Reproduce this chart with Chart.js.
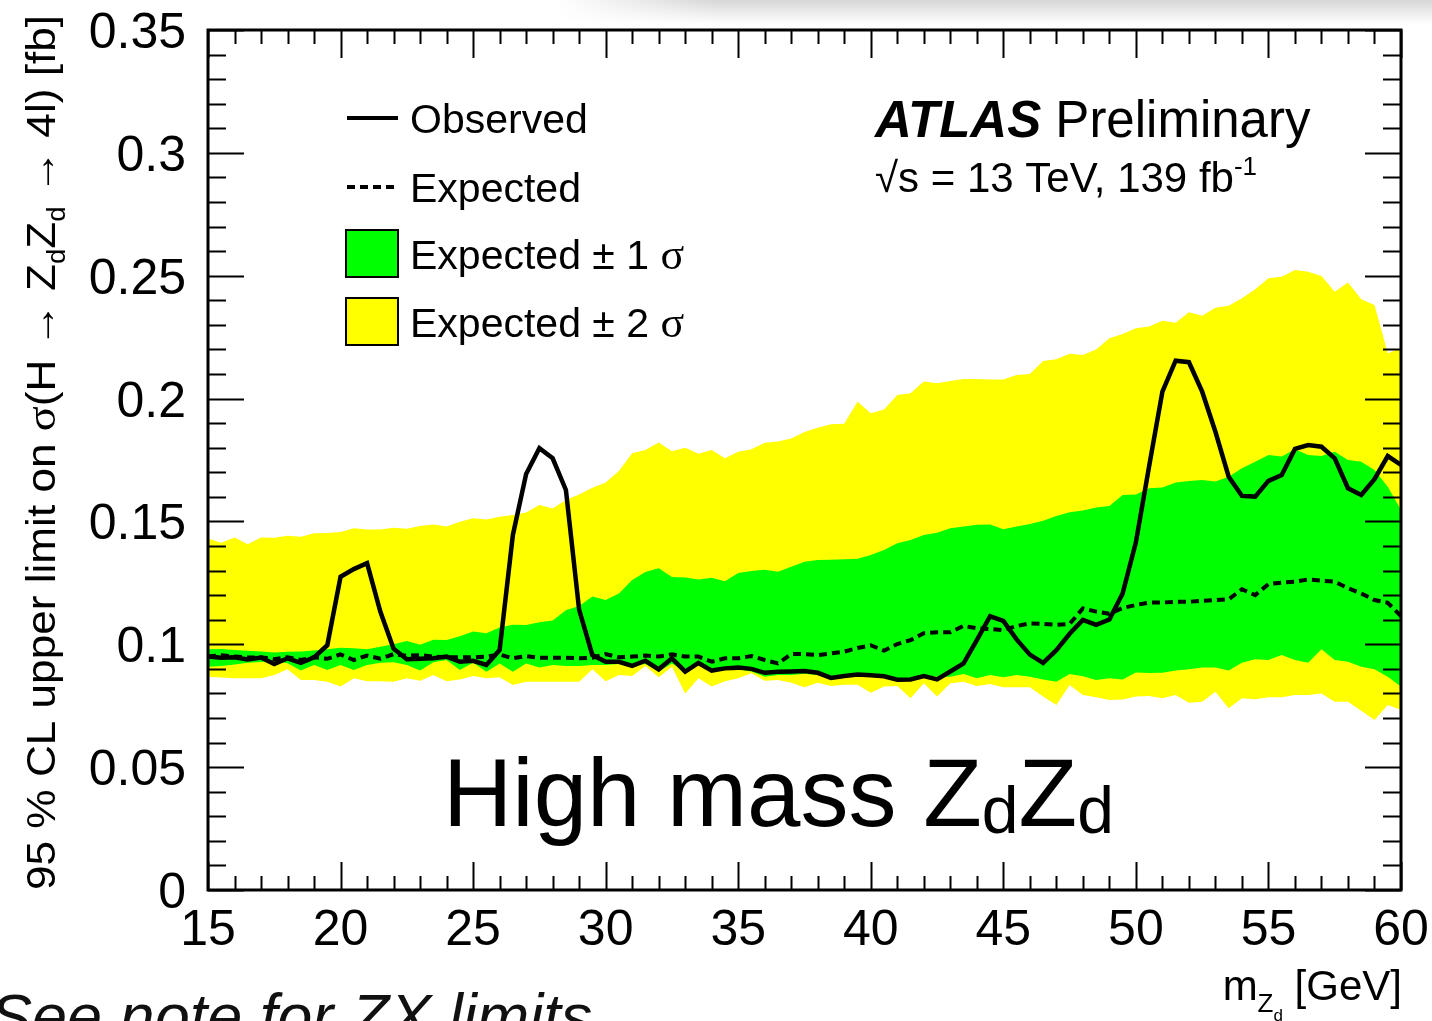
<!DOCTYPE html>
<html>
<head>
<meta charset="utf-8">
<script src="https://cdn.jsdelivr.net/npm/chart.js@4.4.0/dist/chart.umd.min.js"></script>
<style>
  html, body { margin: 0; padding: 0; background: #fff; }
  canvas { display: block; }
</style>
</head>
<body>
<canvas id="limit-chart" width="1432" height="1021"></canvas>
<script>
// m(Zd) scan points [GeV]
var masses = [
  15, 15.5, 16, 16.5, 17, 17.5, 18, 18.5, 19, 19.5,
  20, 20.5, 21, 21.5, 22, 22.5, 23, 23.5, 24, 24.5,
  25, 25.5, 26, 26.5, 27, 27.5, 28, 28.5, 29, 29.5,
  30, 30.5, 31, 31.5, 32, 32.5, 33, 33.5, 34, 34.5,
  35, 35.5, 36, 36.5, 37, 37.5, 38, 38.5, 39, 39.5,
  40, 40.5, 41, 41.5, 42, 42.5, 43, 43.5, 44, 44.5,
  45, 45.5, 46, 46.5, 47, 47.5, 48, 48.5, 49, 49.5,
  50, 50.5, 51, 51.5, 52, 52.5, 53, 53.5, 54, 54.5,
  55, 55.5, 56, 56.5, 57, 57.5, 58, 58.5, 59, 59.5,
  60
];

// 95% CL limits [fb]
var observed = [
  0.0950, 0.0945, 0.0947, 0.0938, 0.0946, 0.0920, 0.0943, 0.0924, 0.0947, 0.0996,
  0.1275, 0.1306, 0.1330, 0.1133, 0.0982, 0.0939, 0.0941, 0.0943, 0.0950, 0.0929,
  0.0933, 0.0916, 0.0977, 0.1445, 0.1693, 0.1798, 0.1757, 0.1628, 0.1140, 0.0956,
  0.0929, 0.0929, 0.0912, 0.0933, 0.0898, 0.0943, 0.0889, 0.0924, 0.0893, 0.0902,
  0.0905, 0.0900, 0.0884, 0.0888, 0.0889, 0.0891, 0.0884, 0.0863, 0.0871, 0.0877,
  0.0874, 0.0870, 0.0856, 0.0857, 0.0871, 0.0857, 0.0889, 0.0922, 0.1017, 0.1114,
  0.1095, 0.1020, 0.0958, 0.0924, 0.0976, 0.1043, 0.1099, 0.1079, 0.1101, 0.1207,
  0.1415, 0.1725, 0.2028, 0.2154, 0.2148, 0.2028, 0.1865, 0.1682, 0.1604, 0.1601,
  0.1665, 0.1689, 0.1795, 0.1811, 0.1804, 0.1757, 0.1635, 0.1608, 0.1672, 0.1766,
  0.1730
];
var expected = [
  0.0950, 0.0955, 0.0950, 0.0946, 0.0947, 0.0939, 0.0947, 0.0936, 0.0947, 0.0941,
  0.0959, 0.0936, 0.0954, 0.0941, 0.0960, 0.0953, 0.0956, 0.0950, 0.0947, 0.0947,
  0.0947, 0.0950, 0.0958, 0.0943, 0.0952, 0.0945, 0.0945, 0.0945, 0.0943, 0.0945,
  0.0960, 0.0947, 0.0950, 0.0954, 0.0950, 0.0959, 0.0950, 0.0950, 0.0929, 0.0943,
  0.0943, 0.0952, 0.0936, 0.0922, 0.0960, 0.0960, 0.0956, 0.0963, 0.0970, 0.0985,
  0.0996, 0.0974, 0.1001, 0.1017, 0.1045, 0.1049, 0.1049, 0.1075, 0.1065, 0.1062,
  0.1058, 0.1074, 0.1085, 0.1083, 0.1079, 0.1083, 0.1146, 0.1133, 0.1124, 0.1148,
  0.1160, 0.1170, 0.1170, 0.1173, 0.1173, 0.1177, 0.1180, 0.1183, 0.1224, 0.1200,
  0.1245, 0.1251, 0.1255, 0.1264, 0.1259, 0.1255, 0.1228, 0.1207, 0.1180, 0.1169,
  0.1115
];
var plus1 = [
  0.0980, 0.0981, 0.0977, 0.0974, 0.0971, 0.0967, 0.0970, 0.0971, 0.0975, 0.0980,
  0.0986, 0.0984, 0.0980, 0.0990, 0.1000, 0.1013, 0.0998, 0.1018, 0.1017, 0.1033,
  0.1052, 0.1045, 0.1068, 0.1079, 0.1078, 0.1090, 0.1097, 0.1139, 0.1156, 0.1194,
  0.1180, 0.1207, 0.1262, 0.1294, 0.1309, 0.1274, 0.1272, 0.1264, 0.1271, 0.1257,
  0.1290, 0.1298, 0.1303, 0.1295, 0.1316, 0.1336, 0.1343, 0.1344, 0.1346, 0.1348,
  0.1363, 0.1384, 0.1411, 0.1424, 0.1445, 0.1454, 0.1472, 0.1479, 0.1486, 0.1488,
  0.1468, 0.1479, 0.1490, 0.1503, 0.1522, 0.1537, 0.1544, 0.1557, 0.1563, 0.1608,
  0.1610, 0.1635, 0.1638, 0.1658, 0.1665, 0.1669, 0.1662, 0.1682, 0.1716, 0.1743,
  0.1770, 0.1764, 0.1794, 0.1770, 0.1766, 0.1784, 0.1750, 0.1743, 0.1709, 0.1641,
  0.1547
];
var minus1 = [
  0.0909, 0.0912, 0.0918, 0.0925, 0.0928, 0.0933, 0.0923, 0.0893, 0.0916, 0.0895,
  0.0916, 0.0895, 0.0916, 0.0925, 0.0927, 0.0916, 0.0893, 0.0927, 0.0936, 0.0895,
  0.0925, 0.0888, 0.0922, 0.0888, 0.0922, 0.0906, 0.0916, 0.0912, 0.0912, 0.0916,
  0.0916, 0.0920, 0.0916, 0.0920, 0.0889, 0.0922, 0.0889, 0.0922, 0.0898, 0.0902,
  0.0898, 0.0889, 0.0868, 0.0875, 0.0875, 0.0880, 0.0875, 0.0862, 0.0873, 0.0875,
  0.0878, 0.0878, 0.0857, 0.0864, 0.0875, 0.0868, 0.0868, 0.0879, 0.0862, 0.0875,
  0.0866, 0.0875, 0.0868, 0.0857, 0.0848, 0.0879, 0.0870, 0.0855, 0.0862, 0.0857,
  0.0885, 0.0883, 0.0884, 0.0893, 0.0898, 0.0906, 0.0906, 0.0893, 0.0925, 0.0939,
  0.0936, 0.0956, 0.0936, 0.0925, 0.0980, 0.0936, 0.0929, 0.0909, 0.0898, 0.0868,
  0.0828
];
var plus2 = [
  0.1431, 0.1413, 0.1435, 0.1407, 0.1435, 0.1434, 0.1442, 0.1438, 0.1452, 0.1453,
  0.1457, 0.1472, 0.1467, 0.1467, 0.1474, 0.1470, 0.1481, 0.1488, 0.1479, 0.1499,
  0.1513, 0.1508, 0.1519, 0.1526, 0.1536, 0.1567, 0.1553, 0.1587, 0.1610, 0.1637,
  0.1658, 0.1705, 0.1777, 0.1791, 0.1821, 0.1786, 0.1800, 0.1775, 0.1791, 0.1757,
  0.1784, 0.1794, 0.1820, 0.1825, 0.1838, 0.1864, 0.1881, 0.1895, 0.1898, 0.1987,
  0.1940, 0.1956, 0.2015, 0.2022, 0.2069, 0.2062, 0.2072, 0.2080, 0.2080, 0.2078,
  0.2078, 0.2096, 0.2100, 0.2153, 0.2160, 0.2182, 0.2177, 0.2200, 0.2245, 0.2263,
  0.2286, 0.2293, 0.2317, 0.2309, 0.2351, 0.2337, 0.2370, 0.2378, 0.2408, 0.2445,
  0.2490, 0.2496, 0.2523, 0.2516, 0.2499, 0.2435, 0.2472, 0.2404, 0.2381, 0.2184,
  0.2205
];
var minus2 = [
  0.0868, 0.0865, 0.0862, 0.0862, 0.0862, 0.0875, 0.0898, 0.0855, 0.0855, 0.0848,
  0.0828, 0.0862, 0.0850, 0.0850, 0.0848, 0.0862, 0.0852, 0.0875, 0.0850, 0.0857,
  0.0871, 0.0862, 0.0866, 0.0834, 0.0848, 0.0848, 0.0848, 0.0848, 0.0848, 0.0898,
  0.0850, 0.0875, 0.0871, 0.0912, 0.0866, 0.0909, 0.0800, 0.0862, 0.0828, 0.0850,
  0.0862, 0.0882, 0.0852, 0.0855, 0.0843, 0.0825, 0.0843, 0.0830, 0.0835, 0.0835,
  0.0803, 0.0828, 0.0830, 0.0780, 0.0841, 0.0787, 0.0841, 0.0848, 0.0830, 0.0838,
  0.0825, 0.0825, 0.0825, 0.0787, 0.0753, 0.0834, 0.0794, 0.0784, 0.0773, 0.0775,
  0.0787, 0.0790, 0.0780, 0.0794, 0.0762, 0.0766, 0.0807, 0.0740, 0.0780, 0.0776,
  0.0784, 0.0784, 0.0794, 0.0794, 0.0800, 0.0766, 0.0766, 0.0730, 0.0692, 0.0753,
  0.0733
];

// axis ticks
var xTickValues = [15, 20, 25, 30, 35, 40, 45, 50, 55, 60];
var xTickLabels = ['15', '20', '25', '30', '35', '40', '45', '50', '55', '60'];
var yTickValues = [0, 0.05, 0.1, 0.15, 0.2, 0.25, 0.3, 0.35];
var yTickLabels = ['0', '0.05', '0.1', '0.15', '0.2', '0.25', '0.3', '0.35'];

var SANS = '"Liberation Sans", Arial, Helvetica, sans-serif';
var SERIF = '"Liberation Serif", "Times New Roman", serif';

function toPoints(values) {
  return masses.map(function (m, i) { return { x: m, y: values[i] }; });
}

// draws a run of text pieces, each with its own font and vertical shift
function drawParts(ctx, parts, x, y) {
  var cx = x;
  parts.forEach(function (p) {
    ctx.font = p.font;
    ctx.fillText(p.t, cx, y + (p.dy || 0));
    cx += ctx.measureText(p.t).width;
  });
  return cx;
}
function partsWidth(ctx, parts) {
  var w = 0;
  parts.forEach(function (p) { ctx.font = p.font; w += ctx.measureText(p.t).width; });
  return w;
}

var atlasDecor = {
  id: 'atlasDecor',
  beforeDraw: function (chart) {
    var ctx = chart.ctx;
    ctx.save();
    // soft shadow along the top right, like in the slide
    var g = ctx.createLinearGradient(0, 0, 0, 24);
    g.addColorStop(0, 'rgba(0,0,0,0.16)');
    g.addColorStop(1, 'rgba(0,0,0,0)');
    ctx.fillStyle = g;
    for (var i = 0; i < 20; i++) {
      ctx.globalAlpha = (i + 1) / 20;
      ctx.fillRect(560 + i * 8, 0, 8, 24);
    }
    ctx.globalAlpha = 1;
    ctx.fillRect(720, 0, 712, 24);
    ctx.restore();
  },
  afterDraw: function (chart) {
    var ctx = chart.ctx;
    var a = chart.chartArea;
    var xs = chart.scales.x, ys = chart.scales.y;
    ctx.save();
    ctx.strokeStyle = '#000';
    ctx.fillStyle = '#000';

    // ticks, inside the frame on all four sides
    ctx.lineWidth = 2;
    ctx.beginPath();
    for (var m = 15; m <= 60; m++) {
      var px = Math.round(xs.getPixelForValue(m)) + 0.5;
      var len = (m % 5 === 0) ? 28 : 14;
      ctx.moveTo(px, a.bottom); ctx.lineTo(px, a.bottom - len);
      ctx.moveTo(px, a.top); ctx.lineTo(px, a.top + len);
    }
    for (var k = 0; k <= 35; k++) {
      var py = Math.round(ys.getPixelForValue(k / 100)) + 0.5;
      var ylen = (k % 5 === 0) ? 36 : 18;
      ctx.moveTo(a.left, py); ctx.lineTo(a.left + ylen, py);
      ctx.moveTo(a.right, py); ctx.lineTo(a.right - ylen, py);
    }
    ctx.stroke();

    // frame
    ctx.lineWidth = 3;
    ctx.strokeRect(a.left, a.top, a.right - a.left, a.bottom - a.top);

    // tick labels
    ctx.font = '50px ' + SANS;
    ctx.textBaseline = 'alphabetic';
    ctx.textAlign = 'right';
    yTickValues.forEach(function (v, i) {
      ctx.fillText(yTickLabels[i], a.left - 22, ys.getPixelForValue(v) + 18);
    });
    ctx.textAlign = 'center';
    xTickValues.forEach(function (v, i) {
      ctx.fillText(xTickLabels[i], xs.getPixelForValue(v), a.bottom + 55);
    });

    // x title
    ctx.textAlign = 'left';
    var xt = [
      { t: 'm', font: '42px ' + SANS },
      { t: 'Z', font: '26px ' + SANS, dy: 12 },
      { t: 'd', font: '17px ' + SANS, dy: 21 },
      { t: ' [GeV]', font: '42px ' + SANS }
    ];
    drawParts(ctx, xt, 1402 - partsWidth(ctx, xt), 1000);

    // y title, squeezed to the frame height
    var yt = [
      { t: '95 % CL upper limit on ', font: '40px ' + SANS },
      { t: 'σ', font: '42px ' + SERIF },
      { t: '(H → Z', font: '40px ' + SANS },
      { t: 'd', font: '25px ' + SANS, dy: 10 },
      { t: 'Z', font: '40px ' + SANS },
      { t: 'd', font: '25px ' + SANS, dy: 10 },
      { t: ' → 4l) [fb]', font: '40px ' + SANS }
    ];
    var ytw = partsWidth(ctx, yt);
    ctx.save();
    ctx.translate(55, 890);
    ctx.rotate(-Math.PI / 2);
    ctx.scale(875 / ytw, 1);
    drawParts(ctx, yt, 0, 0);
    ctx.restore();

    // legend
    var rows = [118, 187, 254, 322];
    ctx.lineWidth = 4;
    ctx.beginPath();
    ctx.moveTo(347, rows[0]); ctx.lineTo(398, rows[0]);
    ctx.stroke();
    ctx.setLineDash([8, 5]);
    ctx.beginPath();
    ctx.moveTo(347, rows[1]); ctx.lineTo(398, rows[1]);
    ctx.stroke();
    ctx.setLineDash([]);
    ctx.lineWidth = 2;
    ctx.fillStyle = '#00ff00';
    ctx.fillRect(346, 230, 52, 47);
    ctx.strokeRect(346, 230, 52, 47);
    ctx.fillStyle = '#ffff00';
    ctx.fillRect(346, 298, 52, 47);
    ctx.strokeRect(346, 298, 52, 47);
    ctx.fillStyle = '#000';
    var lf = '41px ' + SANS, sf = '44px ' + SERIF;
    drawParts(ctx, [{ t: 'Observed', font: lf }], 410, rows[0] + 15);
    drawParts(ctx, [{ t: 'Expected', font: lf }], 410, rows[1] + 15);
    drawParts(ctx, [{ t: 'Expected ± 1 ', font: lf }, { t: 'σ', font: sf }], 410, rows[2] + 15);
    drawParts(ctx, [{ t: 'Expected ± 2 ', font: lf }, { t: 'σ', font: sf }], 410, rows[3] + 15);

    // experiment label
    drawParts(ctx, [
      { t: 'ATLAS', font: 'italic bold 51px ' + SANS },
      { t: ' Preliminary', font: '51px ' + SANS }
    ], 875, 137);
    drawParts(ctx, [
      { t: '√s = 13 TeV, 139 fb', font: '42px ' + SANS },
      { t: '-1', font: '26px ' + SANS, dy: -17 }
    ], 875, 192);

    // region label
    drawParts(ctx, [
      { t: 'High mass Z', font: '96px ' + SANS },
      { t: 'd', font: '66px ' + SANS, dy: 7 },
      { t: 'Z', font: '96px ' + SANS },
      { t: 'd', font: '66px ' + SANS, dy: 7 }
    ], 443, 826);

    // footnote, cut by the page edge
    ctx.fillStyle = '#111';
    drawParts(ctx, [{ t: 'See note for ZX limits', font: 'italic 63px ' + SANS }], -10, 1038);
    ctx.restore();
  }
};

var chartCtx = document.getElementById('limit-chart').getContext('2d');
new Chart(chartCtx, {
  type: 'line',
  data: {
    datasets: [{
      label: 'Expected -2 sigma',
      data: toPoints(minus2),
      borderWidth: 0,
      borderColor: 'rgba(0,0,0,0)',
      pointRadius: 0,
      fill: false,
      order: 5
    }, {
      label: 'Expected +2 sigma',
      data: toPoints(plus2),
      borderWidth: 0,
      borderColor: 'rgba(0,0,0,0)',
      backgroundColor: '#ffff00',
      pointRadius: 0,
      fill: 0,
      order: 4
    }, {
      label: 'Expected -1 sigma',
      data: toPoints(minus1),
      borderWidth: 0,
      borderColor: 'rgba(0,0,0,0)',
      pointRadius: 0,
      fill: false,
      order: 3
    }, {
      label: 'Expected +1 sigma',
      data: toPoints(plus1),
      borderWidth: 0,
      borderColor: 'rgba(0,0,0,0)',
      backgroundColor: '#00ff00',
      pointRadius: 0,
      fill: 2,
      order: 2
    }, {
      label: 'Expected',
      data: toPoints(expected),
      borderColor: '#000',
      borderWidth: 4,
      borderDash: [8, 5],
      pointRadius: 0,
      fill: false,
      order: 1
    }, {
      label: 'Observed',
      data: toPoints(observed),
      borderColor: '#000',
      borderWidth: 4.5,
      borderJoinStyle: 'miter',
      pointRadius: 0,
      fill: false,
      order: 0
    }]
  },
  options: {
    responsive: false,
    devicePixelRatio: 1,
    animation: false,
    layout: {
      padding: { left: 208, top: 30, right: 31, bottom: 131 }
    },
    plugins: {
      legend: { display: false },
      tooltip: { enabled: false }
    },
    scales: {
      x: { type: 'linear', min: 15, max: 60, display: false },
      y: { type: 'linear', min: 0, max: 0.35, display: false }
    }
  },
  plugins: [atlasDecor]
});
</script>
</body>
</html>
